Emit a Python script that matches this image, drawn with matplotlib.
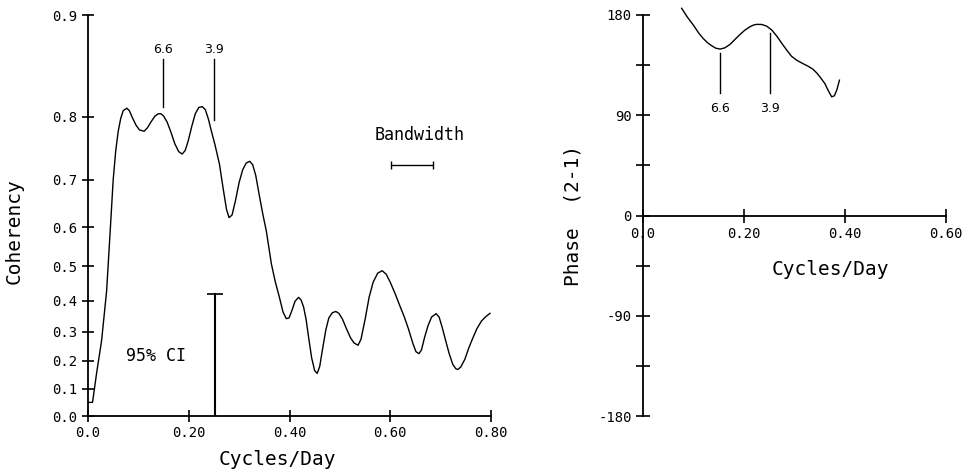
import numpy as np
import matplotlib
matplotlib.use("Agg")
import matplotlib.pyplot as plt
from matplotlib.ticker import FixedLocator

plt.rcParams['font.family'] = ['DejaVu Sans Mono']

# coherency spectrum (cycles/day, coherency)
freq = [0.002, 0.009, 0.017, 0.027, 0.037, 0.044, 0.050, 0.055, 0.060, 0.065,
        0.070, 0.077, 0.082, 0.088, 0.095, 0.102, 0.1115, 0.118, 0.125, 0.133,
        0.140, 0.1446, 0.150, 0.157, 0.165, 0.172, 0.180, 0.187, 0.193, 0.199,
        0.206, 0.213, 0.220, 0.227, 0.233, 0.239, 0.245, 0.252, 0.261, 0.268,
        0.275, 0.280, 0.286, 0.293, 0.300, 0.307, 0.314, 0.321, 0.327, 0.333,
        0.340, 0.347, 0.354, 0.364, 0.372, 0.380, 0.387, 0.3935, 0.399, 0.405,
        0.411, 0.418, 0.423, 0.428, 0.433, 0.438, 0.444, 0.450, 0.455, 0.460,
        0.466, 0.472, 0.478, 0.485, 0.492, 0.498, 0.505, 0.513, 0.521, 0.528,
        0.536, 0.542, 0.550, 0.558, 0.566, 0.575, 0.584, 0.592, 0.600, 0.610,
        0.620, 0.628, 0.636, 0.645, 0.651, 0.657, 0.662, 0.668, 0.675, 0.682,
        0.691, 0.697, 0.703, 0.710, 0.717, 0.724, 0.730, 0.734, 0.740, 0.748,
        0.756, 0.763, 0.772, 0.781, 0.790, 0.798]
coh = [0.05, 0.05, 0.155, 0.27, 0.43, 0.59, 0.70, 0.75, 0.78, 0.798,
       0.808, 0.811, 0.808, 0.799, 0.789, 0.782, 0.780, 0.785, 0.793, 0.801,
       0.804, 0.804, 0.801, 0.793, 0.778, 0.762, 0.749, 0.745, 0.751, 0.766,
       0.787, 0.804, 0.812, 0.813, 0.809, 0.797, 0.780, 0.760, 0.728, 0.685,
       0.640, 0.622, 0.628, 0.660, 0.695, 0.718, 0.730, 0.733, 0.727, 0.708,
       0.670, 0.630, 0.591, 0.507, 0.455, 0.410, 0.365, 0.343, 0.345, 0.37,
       0.398, 0.410, 0.402, 0.38, 0.34, 0.28, 0.21, 0.165, 0.155, 0.18,
       0.245, 0.305, 0.345, 0.362, 0.366, 0.36, 0.342, 0.31, 0.28, 0.262,
       0.254, 0.275, 0.34, 0.41, 0.455, 0.481, 0.488, 0.478, 0.455, 0.42,
       0.38, 0.348, 0.31, 0.26, 0.232, 0.225, 0.238, 0.28, 0.32, 0.348,
       0.359, 0.348, 0.315, 0.27, 0.225, 0.188, 0.172, 0.169, 0.178, 0.205,
       0.245, 0.275, 0.31, 0.335, 0.35, 0.360]

# phase spectrum (cycles/day, degrees)
pfreq = [0.0766, 0.088, 0.0996, 0.110, 0.119, 0.128, 0.136, 0.144, 0.1525,
         0.162, 0.172, 0.182, 0.192, 0.202, 0.212, 0.219, 0.225, 0.235, 0.245,
         0.255, 0.265, 0.275, 0.2846, 0.294, 0.304, 0.316, 0.327, 0.336, 0.344,
         0.352, 0.360, 0.367, 0.3737, 0.379, 0.384, 0.389]
phase = [186.0, 178.0, 171.0, 164.0, 159.0, 155.0, 152.4, 150.2, 149.4,
         150.5, 153.5, 158.0, 162.5, 166.5, 169.5, 171.0, 171.6, 171.5, 170.0,
         166.5, 161.0, 154.5, 148.5, 143.0, 139.5, 136.5, 134.0, 131.5, 128.0,
         123.5, 118.5, 112.0, 106.5, 107.5, 113.0, 121.5]

# period markers (days) at their frequencies
mark_labels = ["6.6", "3.9"]
mark_freq = [0.1485, 0.2495]
coh_mark_top = [0.864, 0.864]
coh_mark_bot = [0.813, 0.796]
ph_mark_freq = [0.1525, 0.2515]
ph_mark_top = [146, 164]
ph_mark_bot = [110, 110]

ci_x, ci_top = 0.2515, 0.419
bw_lo, bw_hi, bw_y = 0.601, 0.684, 0.727

coh_ticks = [0.0, 0.1, 0.2, 0.3, 0.4, 0.5, 0.6, 0.7, 0.8, 0.9]
coh_xticks = [0.0, 0.2, 0.4, 0.6, 0.8]
coh_xlabels = ["0.0", "0.20", "0.40", "0.60", "0.80"]
ph_xticks = [0.0, 0.2, 0.4, 0.6]
ph_xlabels = ["0.0", "0.20", "0.40", "0.60"]
ph_yticks = [-180, -135, -90, -45, 0, 45, 90, 135, 180]
ph_ylabels = ["-180", "", "-90", "", "0", "", "90", "", "180"]

fig = plt.figure(figsize=(9.74, 4.74), dpi=100)

# ---- coherency ----
ax = fig.add_axes([88/974, 58/474, 403/974, 401/474])
fwd = lambda y: np.arctanh(np.clip(y, -0.9999, 0.9999))
inv = lambda y: np.tanh(y)
ax.set_yscale('function', functions=(fwd, inv))
ax.set_xlim(0, 0.8)
ax.set_ylim(0, 0.9)
ax.plot(freq, coh, color="black", lw=1.0)
for lab, x, t, b in zip(mark_labels, mark_freq, coh_mark_top, coh_mark_bot):
    ax.plot([x, x], [b, t], color="black", lw=1.0)
    ax.text(x, 0.873, lab, ha="center", va="center", fontsize=9,
            family="DejaVu Sans")
ax.plot([ci_x, ci_x], [0, ci_top], color="black", lw=1.5)
ax.plot([ci_x], [ci_top], marker="_", ms=12, mew=1.2, color="black")
ax.text(0.135, 0.216, "95% CI", ha="center", va="center", fontsize=12)
ax.errorbar([(bw_lo + bw_hi) / 2], [bw_y], xerr=[(bw_hi - bw_lo) / 2],
            color="black", lw=1.0, capsize=3, capthick=1.0)
ax.text(0.659, 0.775, "Bandwidth", ha="center", va="center", fontsize=12)

ax.yaxis.set_major_locator(FixedLocator(coh_ticks))
ax.yaxis.set_minor_locator(FixedLocator([]))
ax.set_yticklabels(["%.1f" % v for v in coh_ticks])
ax.set_xticks(coh_xticks)
ax.set_xticklabels(coh_xlabels)
for s in ["top", "right"]:
    ax.spines[s].set_visible(False)
for s in ["left", "bottom"]:
    ax.spines[s].set_linewidth(1.3)
ax.tick_params(direction="inout", length=9, width=1.2, labelsize=10, pad=3)
ax.set_xlabel("Cycles/Day", fontsize=14)
ax.set_ylabel("Coherency", fontsize=14)
ax.xaxis.set_label_coords(0.47, -0.085)
ax.yaxis.set_label_coords(-0.16, 0.46)

# ---- phase ----
ax2 = fig.add_axes([643/974, 58/474, 303/974, 401/474])
ax2.set_xlim(0, 0.6)
ax2.set_ylim(-180, 180)
ax2.plot(pfreq, phase, color="black", lw=1.0, clip_on=False)
for lab, x, t, b in zip(mark_labels, ph_mark_freq, ph_mark_top, ph_mark_bot):
    ax2.plot([x, x], [b, t], color="black", lw=1.0)
    ax2.text(x, 96, lab, ha="center", va="center", fontsize=9,
             family="DejaVu Sans")
ax2.spines["bottom"].set_position(("data", 0))
for s in ["top", "right"]:
    ax2.spines[s].set_visible(False)
for s in ["left", "bottom"]:
    ax2.spines[s].set_linewidth(1.3)
ax2.set_xticks(ph_xticks)
ax2.set_xticklabels(ph_xlabels)
ax2.set_yticks(ph_yticks)
ax2.set_yticklabels(ph_ylabels)
ax2.tick_params(direction="inout", length=10, width=1.2, labelsize=10, pad=3)
ax2.set_xlabel("Cycles/Day", fontsize=14)
ax2.xaxis.set_label_coords(0.62, 0.39)
ax2.set_ylabel("Phase  (2-1)", fontsize=14)
ax2.yaxis.set_label_coords(-0.2, 0.5)

fig.savefig("out.png", dpi=100)
